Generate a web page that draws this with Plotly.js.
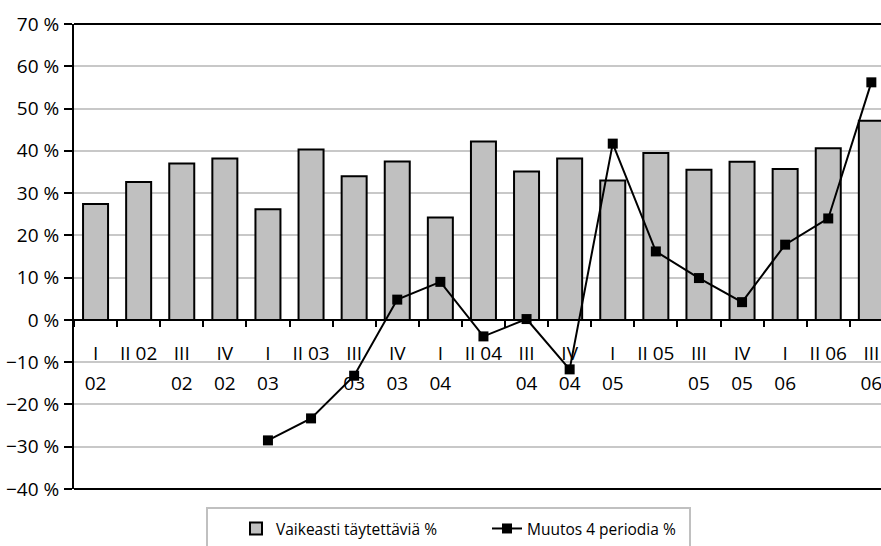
<!DOCTYPE html>
<html>
<head>
<meta charset="utf-8">
<script src="https://cdn.plot.ly/plotly-3.0.1.min.js"></script>
<style>
html, body { margin: 0; padding: 0; overflow: hidden; background: #fff; }
#chart { width: 881px; height: 546px; }
</style>
</head>
<body>
<div id="chart"></div>
<script>
var categories = ["I 02","II 02","III 02","IV 02","I 03","II 03","III 03","IV 03","I 04","II 04","III 04","IV 04","I 05","II 05","III 05","IV 05","I 06","II 06","III 06"];
var labelLine1 = ["I","II 02","III","IV","I","II 03","III","IV","I","II 04","III","IV","I","II 05","III","IV","I","II 06","III"];
var labelLine2 = ["02","","02","02","03","","03","03","04","","04","04","05","","05","05","06","","06"];
var vaikeasti = [27.4, 32.6, 37.0, 38.2, 26.2, 40.3, 34.0, 37.5, 24.2, 42.2, 35.1, 38.2, 33.0, 39.5, 35.5, 37.4, 35.7, 40.6, 47.1];
var muutos = [null, null, null, null, -28.5, -23.3, -13.2, 4.8, 9.0, -3.9, 0.2, -11.7, 41.7, 16.2, 9.9, 4.2, 17.8, 24.0, 56.2];
var seriesNames = ["Vaikeasti täytettäviä %", "Muutos 4 periodia %"];

var FONT = "'Open Sans', 'Noto Sans', sans-serif";
var W = 881, H = 546, L = 74, T = 24, PH = 467;
var catW = 43.1;
var xMax = -0.5 + (W - L) / catW;

var traces = [
  {
    type: "bar",
    name: seriesNames[0],
    x: categories,
    y: vaikeasti,
    xaxis: "x",
    yaxis: "y",
    marker: { color: "#c0c0c0", line: { color: "#000", width: 2 } }
  },
  {
    type: "scatter",
    mode: "lines+markers",
    name: seriesNames[1],
    x: categories,
    y: muutos,
    xaxis: "x2",
    yaxis: "y",
    connectgaps: false,
    line: { color: "#000", width: 2 },
    marker: { symbol: "square", size: 10, color: "#000" }
  }
];

var zeroPos = 40 / 110;
function px2paperX(p) { return (p - L) / (W - L); }
function px2paperY(p) { return (T + PH - p) / PH; }

var layout = {
  width: W,
  height: H,
  margin: { l: L, r: 0, t: T, b: H - T - PH },
  paper_bgcolor: "#fff",
  plot_bgcolor: "#fff",
  font: { family: FONT, size: 19, color: "#000" },
  bargap: 0.42,
  showlegend: true,
  legend: {
    orientation: "h",
    x: px2paperX(236), xanchor: "left",
    y: px2paperY(514), yanchor: "top",
    borderwidth: 0,
    bgcolor: "rgba(0,0,0,0)",
    entrywidth: 206,
    font: { family: FONT, size: 15.5, color: "#000" },
    traceorder: "normal"
  },
  xaxis: {
    type: "category",
    categoryorder: "array",
    categoryarray: categories,
    range: [-0.5, xMax],
    anchor: "free",
    position: zeroPos,
    showline: true, linecolor: "#000", linewidth: 2,
    ticks: "outside", ticklen: 6, tickwidth: 2, tickcolor: "#000",
    tickson: "boundaries",
    tickmode: "array",
    tickvals: categories,
    ticktext: labelLine1,
    tickangle: 0,
    ticklabelstandoff: 16,
    showgrid: false,
    zeroline: false,
    tickfont: { family: FONT, size: 19, color: "#000" }
  },
  xaxis2: {
    type: "category",
    categoryorder: "array",
    categoryarray: categories,
    range: [-0.5, xMax],
    overlaying: "x",
    anchor: "free",
    position: zeroPos,
    side: "bottom",
    showline: false,
    ticks: "",
    tickmode: "array",
    tickvals: categories,
    ticktext: labelLine2,
    tickangle: 0,
    ticklabelstandoff: 50,
    showgrid: false,
    zeroline: false,
    tickfont: { family: FONT, size: 19, color: "#000" }
  },
  yaxis: {
    range: [-40, 70],
    dtick: 10,
    tick0: 0,
    ticksuffix: " %",
    showline: true, linecolor: "#000", linewidth: 2,
    ticks: "outside", ticklen: 8, tickwidth: 2, tickcolor: "#000",
    ticklabelstandoff: 1,
    showgrid: true, gridcolor: "#c8c8c8", gridwidth: 2,
    zeroline: false,
    tickfont: { family: FONT, size: 19, color: "#000" }
  },
  shapes: [
    { type: "line", xref: "paper", yref: "paper", x0: 0, x1: 1, y0: 1, y1: 1, line: { color: "#000", width: 2 } },
    { type: "line", xref: "paper", yref: "paper", x0: 0, x1: 1, y0: 0, y1: 0, line: { color: "#000", width: 2 } },
    { type: "rect", xref: "paper", yref: "paper",
      x0: px2paperX(207), x1: px2paperX(690), y0: px2paperY(560), y1: px2paperY(510),
      line: { color: "#c0c0c0", width: 2 }, fillcolor: "rgba(0,0,0,0)" }
  ]
};

Plotly.newPlot("chart", traces, layout, { displayModeBar: false, staticPlot: true });
</script>
</body>
</html>
